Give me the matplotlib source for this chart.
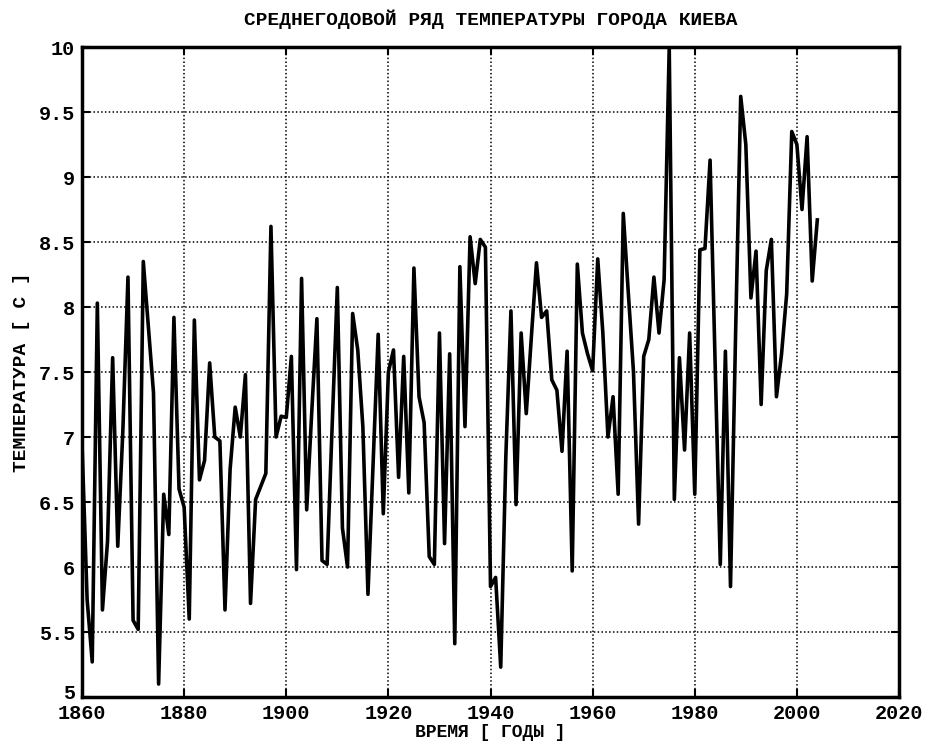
import numpy as np
import matplotlib
matplotlib.use("Agg")
import matplotlib.pyplot as plt
import matplotlib.transforms as mtransforms

# Kiev mean annual temperature
years = list(range(1860, 2005))
temps = [
    6.95, 5.75, 5.27, 8.03, 5.67, 6.20, 7.61, 6.16, 7.05, 8.23,   # 1860s
    5.59, 5.52, 8.35, 7.84, 7.34, 5.10, 6.56, 6.25, 7.92, 6.60,   # 1870s
    6.46, 5.60, 7.90, 6.67, 6.82, 7.57, 7.00, 6.97, 5.67, 6.75,   # 1880s
    7.23, 7.00, 7.48, 5.72, 6.52, 6.62, 6.72, 8.62, 7.00, 7.16,   # 1890s
    7.15, 7.62, 5.98, 8.22, 6.44, 7.20, 7.91, 6.05, 6.02, 7.10,   # 1900s
    8.15, 6.30, 6.00, 7.95, 7.67, 7.08, 5.79, 6.79, 7.79, 6.41,   # 1910s
    7.50, 7.67, 6.69, 7.62, 6.57, 8.30, 7.31, 7.11, 6.08, 6.02,   # 1920s
    7.80, 6.18, 7.64, 5.41, 8.31, 7.08, 8.54, 8.18, 8.52, 8.46,   # 1930s
    5.85, 5.92, 5.23, 6.85, 7.97, 6.48, 7.80, 7.18, 7.77, 8.34,   # 1940s
    7.92, 7.97, 7.44, 7.36, 6.89, 7.66, 5.97, 8.33, 7.80, 7.64,   # 1950s
    7.51, 8.37, 7.80, 7.00, 7.31, 6.56, 8.72, 8.10, 7.50, 6.33,   # 1960s
    7.62, 7.75, 8.23, 7.80, 8.21, 10.00, 6.52, 7.61, 6.90, 7.80,  # 1970s
    6.56, 8.44, 8.45, 9.13, 7.55, 6.02, 7.66, 5.85, 7.80, 9.62,   # 1980s
    9.25, 8.07, 8.43, 7.25, 8.28, 8.52, 7.31, 7.64, 8.10, 9.35,   # 1990s
    9.25, 8.75, 9.31, 8.20, 8.67,                                 # 2000s
]

x_ticks = list(range(1860, 2021, 20))
y_ticks = [5, 5.5, 6, 6.5, 7, 7.5, 8, 8.5, 9, 9.5, 10]
y_tick_labels = ['5', '5.5', '6', '6.5', '7', '7.5', '8', '8.5', '9', '9.5', '10']

plt.rcParams['font.family'] = ['Liberation Mono', 'DejaVu Sans Mono']
plt.rcParams['font.weight'] = 'bold'

fig = plt.figure(figsize=(9.32, 7.45), dpi=100)
ax = fig.add_axes([0.088, 0.0644, 0.8766, 0.8725])

ax.plot(years, temps, color='black', linewidth=2.6)

ax.set_xlim(1860, 2020)
ax.set_ylim(5, 10)
ax.set_xticks(x_ticks)
ax.set_yticks(y_ticks)
ax.set_yticklabels(y_tick_labels)

ax.grid(True, color='black', linestyle=(0, (1, 1.5)), linewidth=1.1)
ax.tick_params(direction='in', top=True, right=True, length=6, width=1.5,
               labelsize=14.5)
ax.tick_params(axis='x', pad=5)
ax.tick_params(axis='y', pad=5)
for lbl in ax.get_xticklabels() + ax.get_yticklabels():
    lbl.set_fontweight('bold')
for s in ax.spines.values():
    s.set_linewidth(2.5)

# nudge the bottom "5" up a little so it does not touch "1860"
lbl5 = ax.get_yticklabels()[0]
lbl5.set_transform(lbl5.get_transform() +
                   mtransforms.ScaledTranslation(0, 4 / 72, fig.dpi_scale_trans))

ax.set_title('СРЕДНЕГОДОВОЙ РЯД ТЕМПЕРАТУРЫ ГОРОДА КИЕВА',
             fontsize=14, fontweight='bold', pad=16)
ax.set_xlabel('ВРЕМЯ [ ГОДЫ ]', fontsize=13, fontweight='bold', labelpad=1)
ax.set_ylabel('ТЕМПЕРАТУРА [ С ]', fontsize=14, fontweight='bold', labelpad=6)

fig.savefig('out.png', dpi=100)
